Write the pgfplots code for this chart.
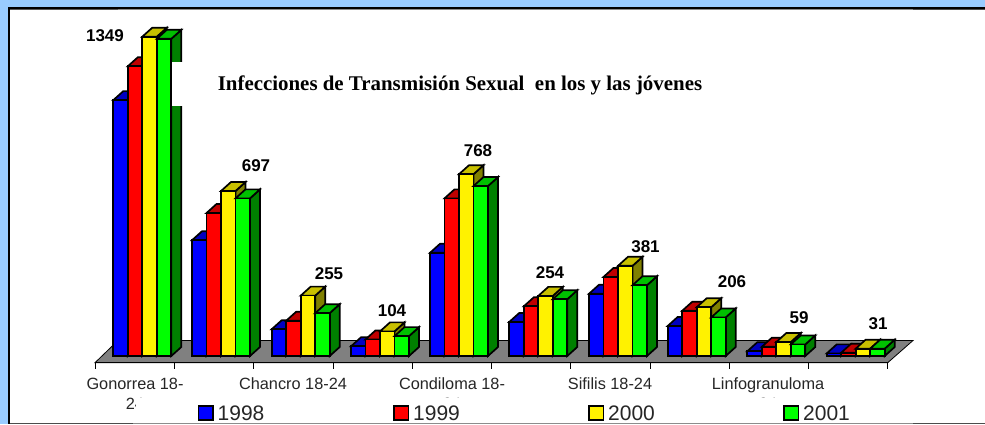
\documentclass[border=0pt]{standalone}
\usepackage{pgfplots}
\pgfplotsset{compat=1.18}
\usepackage{fontspec}
\setmainfont{Liberation Sans}
\newfontfamily\serifb{Liberation Serif}
\definecolor{bgblue}{HTML}{99CCFF}
\definecolor{floorgray}{HTML}{808080}
\definecolor{bluetop}{HTML}{0000C0}
\definecolor{blueside}{HTML}{000080}
\definecolor{redtop}{HTML}{C00000}
\definecolor{redside}{HTML}{800000}
\definecolor{yeltop}{HTML}{C8C000}
\definecolor{yelside}{HTML}{808000}
\definecolor{grntop}{HTML}{00C000}
\definecolor{grnside}{HTML}{008000}
\newcommand{\oneb}[5]{% x, value, front, top, side
  \pgfmathsetmacro\xa{#1}\pgfmathsetmacro\xb{#1+14.5}
  \pgfmathsetmacro\xc{#1+24.5}\pgfmathsetmacro\xd{#1+10}
  \pgfmathsetmacro\yt{#2+38}\pgfmathsetmacro\yo{38}
  \edef\tmp{\noexpand\addplot[fill=#5,draw=black,line width=1.7pt] coordinates {(\xb,0) (\xc,\yo) (\xc,\yt) (\xb,#2)} --cycle;
  \noexpand\addplot[fill=#4,draw=black,line width=1.7pt] coordinates {(\xa,#2) (\xd,\yt) (\xc,\yt) (\xb,#2)} --cycle;
  \noexpand\addplot[fill=#3,draw=black,line width=1.7pt] coordinates {(\xa,0) (\xa,#2) (\xb,#2) (\xb,0)} --cycle;}\tmp}
\newcommand{\grp}[5]{%
  \oneb{#1}{#2}{blue}{bluetop}{blueside}
  \oneb{#1+14.5}{#3}{red}{redtop}{redside}
  \oneb{#1+29}{#4}{yellow}{yeltop}{yelside}
  \oneb{#1+43.5}{#5}{green}{grntop}{grnside}}
\begin{document}
\begin{tikzpicture}
\begin{scope}[x=1pt,y=-1pt,shift={(0pt,424pt)}]
  \fill[bgblue] (0,0) rectangle (985,424);
  \fill[white] (8,8) rectangle (985,424);
  \fill[black] (8,7) rectangle (985,9);
  \fill[black!65] (8,9) rectangle (118,10);
  \fill[black!45] (118,9) rectangle (913,10);
  \fill[black!70] (913,9) rectangle (985,10);
  \fill[black] (8,7) rectangle (10,424);
  \fill[black!70] (10,423) rectangle (133,424);
  \fill[black!45] (133,423) rectangle (913,424);
  \fill[black!70] (913,423) rectangle (985,424);
  \fill[floorgray,draw=black,line width=0.8pt] (95,362.7) -- (118,340.5) -- (913,340.5) -- (887.7,362.7) -- cycle;
  \draw[black,line width=1.2pt] (95,362.7) -- (887.7,362.7);
  \foreach \i in {0,...,10} \draw[black,line width=0.6pt] ({95+\i*79.27},362.7) -- ({95+\i*79.27},369);
  \foreach \l/\x in {{Gonorrea 18-}/135,{Chancro 18-24}/293,{Condiloma 18-}/452,{Sifilis 18-24}/610,{Linfogranuloma}/768}
    \node[font=\fontsize{16.3}{18}\selectfont,text=black!85,anchor=base] at (\x,389) {\l};
  \foreach \x in {135,452,768}
    \node[font=\fontsize{16.3}{18}\selectfont,text=black!85,anchor=base] at (\x,409) {24};
\end{scope}
\begin{axis}[at={(0pt,0pt)},anchor=south west,width=985pt,height=424pt,scale only axis,
  axis lines=none,clip=false,xmin=0,xmax=985,ymin=-287.3,ymax=1504,ticks=none]
\grp{113.3}{1081}{1224}{1349}{1340}
\grp{192}{489}{604}{697}{666}
\grp{271.7}{113}{149}{255}{181}
\grp{351}{41}{70}{104}{84}
\grp{430}{436}{666}{768}{718}
\grp{509.3}{144}{210}{254}{240}
\grp{589}{263}{334}{381}{299}
\grp{667.7}{127}{191}{206}{163}
\grp{747.3}{20}{39}{59}{49}
\grp{826.7}{11}{14}{31}{31}
\end{axis}
\begin{scope}[x=1pt,y=-1pt,shift={(0pt,424pt)}]
  \fill[white] (172.2,62) rectangle (205,106);
  \fill[white] (136,398) rectangle (980,422.8);
  \node[font=\serifb\bfseries\fontsize{20.9}{22}\selectfont,anchor=base,text=black] at (460,90.5) {Infecciones de Transmisión Sexual\ \ en los y las jóvenes};
  \foreach \t/\x/\y in {1349/105/36,697/256/166,255/329/274,104/392/311,768/478/151,254/550/273,381/645.5/247,206/732/282,59/799/318,31/878/324}
    \node[font=\bfseries\fontsize{17}{19}\selectfont,text=black] at (\x,\y) {\t};
  \foreach \x/\c/\t in {198.5/blue/1998,394/red/1999,589/yellow/2000,784/green/2001}{
    \draw[black,line width=1.7pt,fill=\c] (\x,405.8) rectangle (\x+14.5,419.8);
    \node[font=\fontsize{21}{23}\selectfont,anchor=base west,inner sep=0pt,text=black!85] at (\x+19,420.5) {\t};}
\end{scope}
\end{tikzpicture}
\end{document}
